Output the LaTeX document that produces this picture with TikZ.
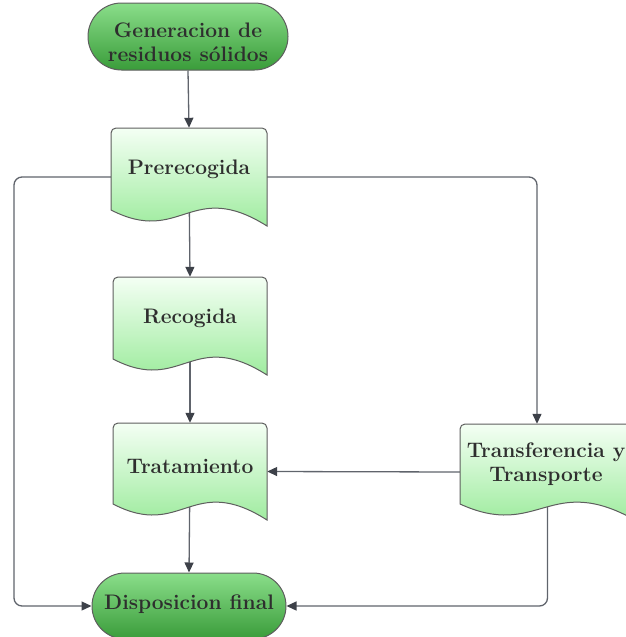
\documentclass[tikz,border=0pt]{standalone}
\usetikzlibrary{shapes.misc,arrows.meta,backgrounds}
\definecolor{txt}{HTML}{2E2E2E}
\definecolor{edge}{HTML}{60646C}
\definecolor{tip}{HTML}{3D4149}
\definecolor{bord}{HTML}{5E5E5E}
\definecolor{termtop}{HTML}{8ADE8A}
\definecolor{termbot}{HTML}{3A9C3A}
\definecolor{doctop}{HTML}{F4FFF4}
\definecolor{docbot}{HTML}{8EE88E}
\tikzset{
  lbl/.style={text=txt,font=\fontsize{21}{24}\selectfont\bfseries,align=center,inner sep=0pt},
  term/.style={rounded rectangle,draw=bord,line width=1pt,top color=termtop,bottom color=termbot,inner sep=0pt},
  bbox/.style={rectangle,draw=none,inner sep=0pt},
  docstyle/.style={draw=bord,line width=1pt,top color=doctop,bottom color=docbot},
  conn/.style={draw=edge,line width=1.3pt,-{Triangle[length=10pt,width=9pt,fill=tip,color=tip]}},
}
\newcommand\docshape[4]{% x1, y1, w, h
  \path[docstyle] (#1,#2+#4-16) -- (#1,#2+5) arc[start angle=180,end angle=270,radius=5]
    -- (#1+#3-5,#2) arc[start angle=270,end angle=360,radius=5]
    -- (#1+#3,#2+#4) .. controls (#1+0.51*#3,#2+#4-48) and (#1+0.45*#3,#2+#4+20) .. (#1,#2+#4-16) -- cycle;}
\begin{document}
\begin{tikzpicture}[x=1pt,y=-1pt]
\useasboundingbox (0,0) rectangle (626,637);
% terminators
\node[term,minimum width=200pt,minimum height=67pt] (gen) at (188,36.5) {};
\node[lbl] (gentxt) at (188,42) {Generacion de\\residuos sólidos};
\node[term,minimum width=194pt,minimum height=66pt] (disp) at (189,606) {};
\node[lbl] (disptxt) at (189,604) {Disposicion final};
% documents
\docshape{111}{128}{156}{98}
\node[bbox,minimum width=156pt,minimum height=98pt] (pre) at (189,177) {};
\node[lbl] (pretxt) at (189,169) {Prerecogida};
\docshape{113}{277}{154}{98}
\node[bbox,minimum width=154pt,minimum height=98pt] (rec) at (190,326) {};
\node[lbl] (rectxt) at (190,318) {Recogida};
\docshape{113}{423}{154}{97}
\node[bbox,minimum width=154pt,minimum height=97pt] (tra) at (190,471.5) {};
\node[lbl] (tratxt) at (190,466) {Tratamiento};
\docshape{460}{424}{175}{96}
\node[bbox,minimum width=175pt,minimum height=96pt] (trans) at (547.5,472) {};
\node[lbl] (transtxt) at (546,464) {Transferencia y\\Transporte};
\coordinate (lcorner) at (14,177);
\begin{pgfonlayer}{background}
\draw[conn] (gen.south) -- (pre.north);
\draw[conn] (pre.center) -- (rec.north);
\draw[conn] (rec.center) -- (tra.north);
\draw[conn] (tra.center) -- (disp.north);
\draw[conn] (trans.west) -- (tra.east);
\draw[conn,rounded corners=8pt] (pre.west) -- (lcorner) |- (disp.west);
\draw[conn,rounded corners=8pt] (pre.east) -| ([xshift=-10.5pt]trans.north);
\draw[conn,rounded corners=8pt] (trans.center) |- (disp.east);
\end{pgfonlayer}
\end{tikzpicture}
\end{document}
